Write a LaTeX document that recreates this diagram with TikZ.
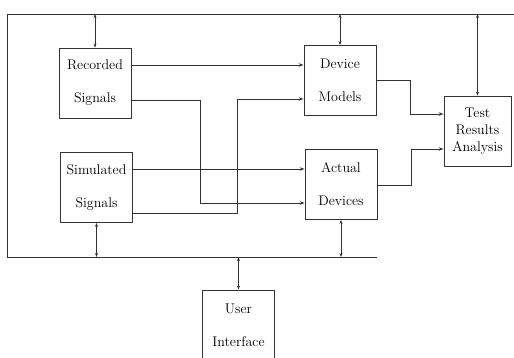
\documentclass[tikz,border=0pt]{standalone}
\usepackage{tikz}
\usetikzlibrary{arrows.meta,calc,positioning}
\definecolor{InkGray}{HTML}{333333}

\begin{document}
\begin{tikzpicture}[x=1pt,y=-1pt,
    every path/.style={InkGray,line width=0.8pt},
    blockbox/.style={draw=InkGray,line width=0.8pt,minimum width=72pt,
      minimum height=70pt,align=center,inner sep=0pt,text=black,
      font=\fontsize{14}{17}\selectfont},
    sig/.style={-{Stealth[length=5pt,width=3.5pt]}},
    busline/.style={{Stealth[length=4pt,width=3pt]}-{Stealth[length=4pt,width=3pt]}}]

  \useasboundingbox (0,0) rectangle (514,358);

  % blocks
  \node[blockbox] (rec) at (95,83) {Recorded\\[16pt]Signals};
  \node[blockbox] (sim) at (96.5,187.5) {Simulated\\[16pt]Signals};
  \node[blockbox] (mod) at (340,80.5) {Device\\[16pt]Models};
  \node[blockbox] (dev) at (341,184.5) {Actual\\[16pt]Devices};
  \node[blockbox,minimum width=67pt] (res) at (477.5,131) {Test\\Results\\Analysis};
  \node[blockbox] (ui) at (238.5,325) {User\\[16pt]Interface};

  % bus
  \coordinate (tl) at (7,14);
  \coordinate (tr) at (514,14);
  \coordinate (bl) at (7,257);
  \coordinate (br) at (377,257);
  \draw (tr) -- (tl) -- (bl) -- (br);

  \draw[busline] (rec.north |- tl) -- (rec.north);
  \draw[busline] (mod.north |- tl) -- (mod.north);
  \draw[busline] (res.north |- tl) -- (res.north);
  \draw[busline] (sim.south) -- (sim.south |- bl);
  \draw[busline] (dev.south) -- (dev.south |- bl);
  \draw[busline] (bl -| ui.north) -- (ui.north);

  % signal paths
  \coordinate (j1) at (200,203);
  \coordinate (j2) at (237,99);
  \coordinate (j3) at (410,114);
  \coordinate (j4) at (411,149);

  \draw[sig] (rec.east |- 0,65) -- (mod.west |- 0,65);
  \draw[sig] (rec.east |- 0,100) -| (j1) -- (dev.west |- j1);
  \draw[sig] (sim.east |- 0,169) -- (dev.west |- 0,169);
  \draw[sig] (sim.east |- 0,213) -| (j2) -- (mod.west |- j2);
  \draw[sig] (mod.east) -| (j3) -- (res.west |- j3);
  \draw[sig] (dev.east |- 0,185) -| (j4) -- (res.west |- j4);

\end{tikzpicture}
\end{document}
